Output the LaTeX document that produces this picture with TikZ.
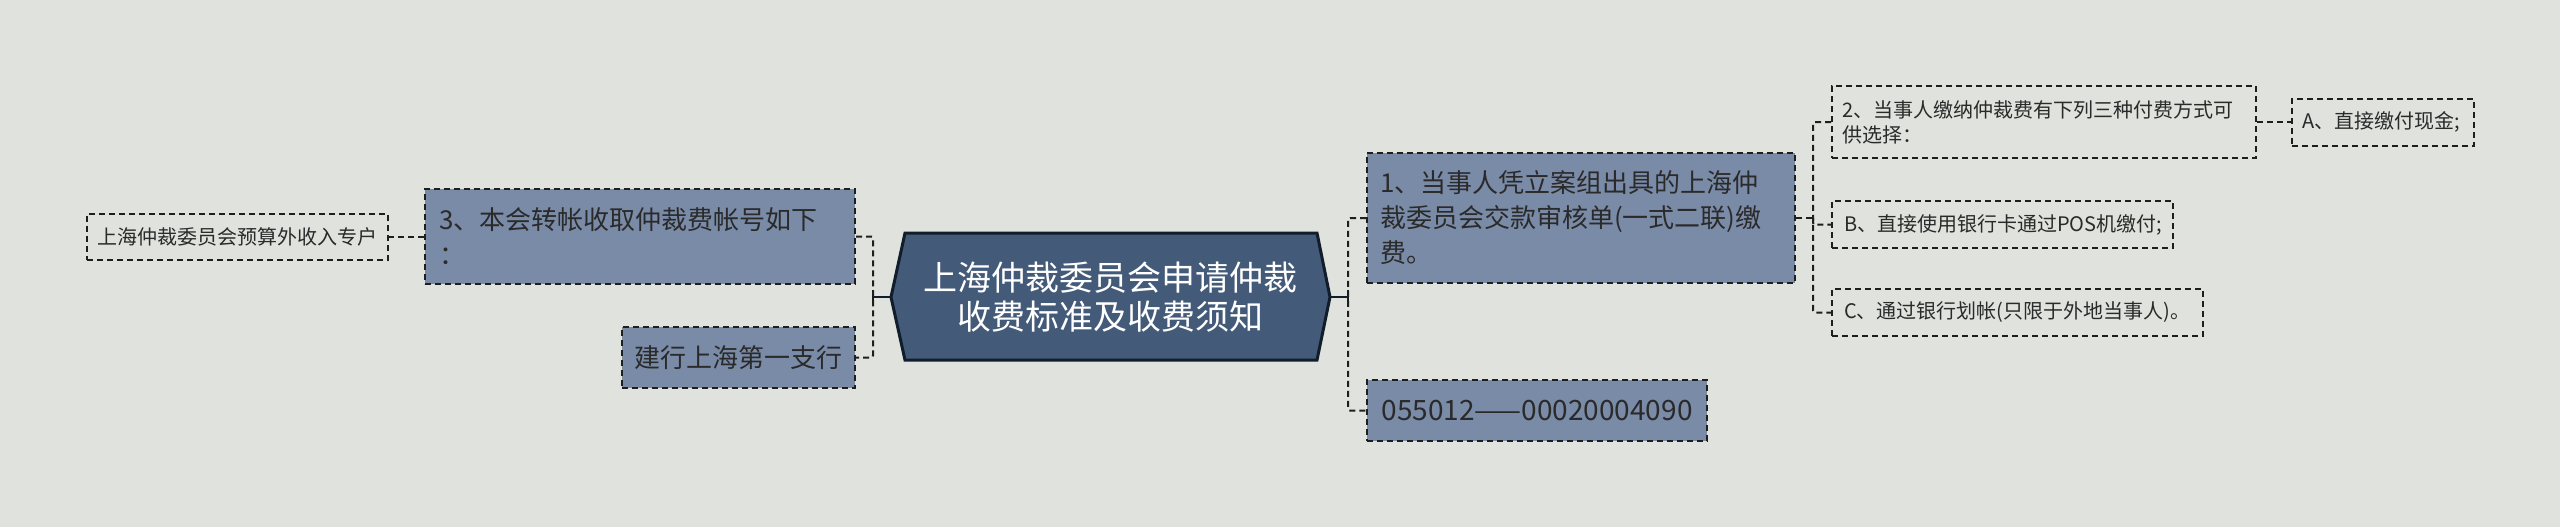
\documentclass[tikz,border=0pt]{standalone}
\usepackage{fontspec}
\setmainfont{Noto Sans CJK SC}
\definecolor{bgc}{HTML}{E0E2DD}
\definecolor{nodefill}{HTML}{7A8BA7}
\definecolor{rootfill}{HTML}{435A79}
\definecolor{rootline}{HTML}{121D2C}
\definecolor{linec}{HTML}{1E1E1E}
\definecolor{txt}{HTML}{2A2A2A}
\begin{document}
\begin{tikzpicture}[x=0.5pt,y=-0.5pt,
  dashline/.style={draw=linec, line width=1pt, dash pattern=on 3pt off 2pt},
  box/.style={dashline, fill=nodefill, text=txt, inner ysep=0pt},
  leafbox/.style={dashline, text=txt, inner ysep=0pt},
  conn/.style={dashline, rounded corners=1pt},
  solidconn/.style={draw=rootline, line width=1.2pt},
  bigfont/.style={font=\fontsize{13}{17.5}\selectfont},
  smallfont/.style={font=\fontsize{10}{12.5}\selectfont}]
\fill[bgc] (0,0) rectangle (2560,527);
\useasboundingbox (0,0) rectangle (2560,527);

% root
\draw[fill=rootfill, draw=rootline, line width=1.5pt]
  (891,297) coordinate (rootL) -- (905,233) -- (1317,233) -- (1330,297) coordinate (rootR)
  -- (1317,360) -- (905,360) -- cycle;
\node[text=white, align=center, font=\fontsize{17}{19.5}\selectfont] (root) at (1110.5,297)
  {上海仲裁委员会申请仲裁\\收费标准及收费须知};

% left side
\node[box, bigfont, text width=201pt, inner xsep=7pt, minimum height=47.5pt, align=left]
  (n3) at (640,236.5) {3、本会转帐收取仲裁费帐号如下\\：};
\node[box, bigfont, minimum width=116.5pt, minimum height=30.5pt, inner xsep=0pt]
  (jh) at (738.5,357.5) {建行上海第一支行};
\node[leafbox, smallfont, minimum width=150.5pt, minimum height=23pt, inner xsep=0pt]
  (leaf) at (237.5,236.5) {上海仲裁委员会预算外收入专户};

% right side
\node[box, bigfont, text width=201pt, inner xsep=6.5pt, minimum height=65pt, align=left]
  (n1) at (1581,218) {1、当事人凭立案组出具的上海仲\\裁委员会交款审核单(一式二联)缴\\费。};
\node[box, font=\fontsize{14}{17.5}\selectfont, minimum width=170pt, minimum height=30.5pt, inner xsep=0pt]
  (acct) at (1537,410.5) {055012——00020004090};

\node[leafbox, smallfont, text width=202pt, inner xsep=5pt, minimum height=36pt, align=left]
  (n2) at (2044,122) {2、当事人缴纳仲裁费有下列三种付费方式可\\供选择：};
\node[leafbox, smallfont, text width=81pt, inner xsep=5pt, minimum height=23.5pt, align=left]
  (nA) at (2383,122) {A、直接缴付现金;};
\node[leafbox, smallfont, text width=158.5pt, inner xsep=6pt, minimum height=23.5pt, align=left]
  (nB) at (2002.5,224.5) {B、直接使用银行卡通过POS机缴付;};
\node[leafbox, smallfont, text width=173.5pt, inner xsep=6pt, minimum height=23.5pt, align=left]
  (nC) at (2017.5,312.5) {C、通过银行划帐(只限于外地当事人)。};

% connectors left
\coordinate (lv) at (873,297);
\draw[solidconn] (rootL) -- (lv);
\draw[solidconn] ([yshift=-3.5pt]lv) -- ([yshift=3.5pt]lv);
\draw[conn] (n3.east) -- (n3.east -| lv) |- (jh.east);
\draw[conn] (n3.west) -- (leaf.east);

% connectors right
\coordinate (rv) at (1348,297);
\draw[solidconn] (rootR) -- (rv);
\draw[solidconn] ([yshift=-3.5pt]rv) -- ([yshift=3.5pt]rv);
\draw[conn] (n1.west) -- (n1.west -| rv) |- (acct.west);

\coordinate (v2) at (1813,218);
\draw[conn] (n1.east) -- (v2);
\draw[conn] (n2.west) -- (n2.west -| v2) |- (nC.west);
\draw[conn] (v2) |- (nB.west);
\draw[conn] (n2.east) -- (nA.west);
\end{tikzpicture}
\end{document}
